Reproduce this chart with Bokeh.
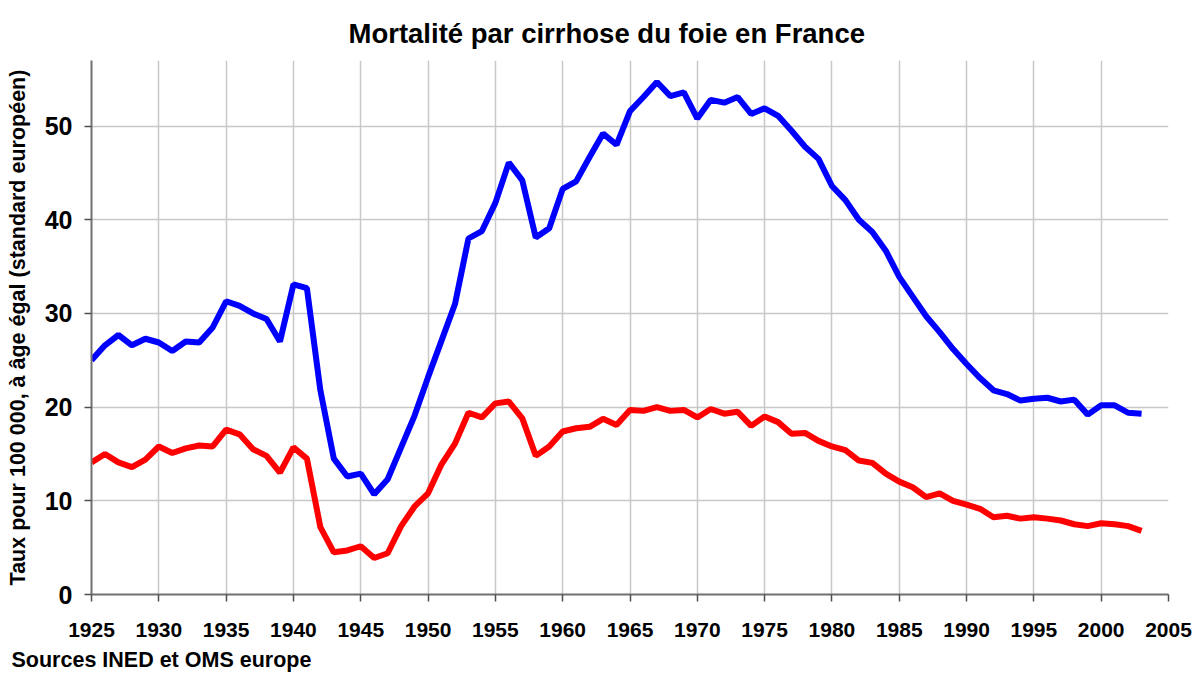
from bokeh.plotting import figure
from bokeh.models import Range1d, FixedTicker, Title, ColumnDataSource
from bokeh.embed import file_html
from bokeh.resources import INLINE

years = list(range(1925, 2004))

hommes = [25.0, 26.6, 27.7, 26.6, 27.3, 26.9, 26.0, 27.0, 26.9, 28.5,
          31.3, 30.8, 30.0, 29.4, 27.0, 33.1, 32.7, 21.8, 14.5, 12.6,
          12.9, 10.7, 12.3, 15.7, 19.1, 23.2, 27.1, 31.0, 38.0, 38.8,
          41.8, 46.1, 44.2, 38.1, 39.1, 43.3, 44.1, 46.7, 49.2, 48.0,
          51.6, 53.1, 54.7, 53.2, 53.6, 50.8, 52.8, 52.5, 53.1, 51.3,
          51.9, 51.1, 49.5, 47.8, 46.5, 43.6, 42.1, 40.0, 38.7, 36.7,
          33.9, 31.8, 29.7, 28.0, 26.2, 24.6, 23.1, 21.8, 21.4, 20.7,
          20.9, 21.0, 20.6, 20.8, 19.2, 20.2, 20.2, 19.4, 19.3]

femmes = [14.1, 15.0, 14.1, 13.6, 14.4, 15.8, 15.1, 15.6, 15.9, 15.8,
          17.6, 17.1, 15.5, 14.8, 13.0, 15.7, 14.5, 7.2, 4.5, 4.7,
          5.15, 3.9, 4.4, 7.3, 9.4, 10.8, 13.9, 16.1, 19.4, 18.9,
          20.4, 20.6, 18.8, 14.8, 15.8, 17.4, 17.75, 17.9, 18.75, 18.1,
          19.7, 19.6, 20.0, 19.6, 19.7, 18.9, 19.8, 19.3, 19.5, 18.0,
          19.0, 18.4, 17.15, 17.25, 16.4, 15.8, 15.4, 14.3, 14.05, 12.9,
          12.05, 11.45, 10.4, 10.8, 10.0, 9.6, 9.15, 8.25, 8.4, 8.1,
          8.25, 8.1, 7.9, 7.5, 7.3, 7.6, 7.5, 7.3, 6.8]

x_ticks = list(range(1925, 2006, 5))
y_ticks = [0, 10, 20, 30, 40, 50]

FONT = "Liberation Sans"

src = ColumnDataSource(dict(year=years, h=hommes, f=femmes))

p = figure(width=1199, height=679, output_backend="svg", toolbar_location=None,
           x_range=Range1d(1925, 2005), y_range=Range1d(0, 57),
           min_border_left=91, min_border_right=31, min_border_top=60,
           min_border_bottom=85, outline_line_color=None)

p.title.text = "Mortalité par cirrhose du foie en France"
p.title.text_font = FONT
p.title.text_font_size = "27.5px"
p.title.text_font_style = "bold"
p.title.text_color = "black"
p.title.align = "left"
p.title.offset = 257
p.title.standoff = 22
p.title.vertical_align = "middle"
p.title.text_line_height = 0.6

p.line("year", "h", source=src, line_color="#0000FF", line_width=6)
p.line("year", "f", source=src, line_color="#FF0000", line_width=6)

p.xaxis.ticker = FixedTicker(ticks=x_ticks)
p.yaxis.ticker = FixedTicker(ticks=y_ticks)
p.xaxis.minor_tick_line_color = None
p.yaxis.minor_tick_line_color = None

for ax in (p.xaxis, p.yaxis):
    ax.axis_line_color = "#707070"
    ax.axis_line_width = 2
    ax.major_tick_line_color = "#505050"
    ax.major_tick_line_width = 1.5
    ax.major_tick_in = 0
    ax.major_tick_out = 7
    ax.major_label_text_font = FONT
    ax.major_label_text_font_style = "bold"
    ax.major_label_text_color = "black"

p.xaxis.major_label_text_font_size = "21px"
p.xaxis.major_label_standoff = 21
p.yaxis.major_label_text_font_size = "25px"
p.yaxis.major_label_standoff = 12

p.yaxis.axis_label = "Taux pour 100 000, à âge égal (standard européen)"
p.yaxis.axis_label_text_font = FONT
p.yaxis.axis_label_text_font_size = "21.5px"
p.yaxis.axis_label_text_font_style = "bold"
p.yaxis.axis_label_text_color = "black"
p.yaxis.axis_label_standoff = 12

p.xgrid.grid_line_color = "#c8c8c8"
p.ygrid.grid_line_color = "#c8c8c8"
p.xgrid.grid_line_width = 1.5
p.ygrid.grid_line_width = 1.5

src_title = Title(text="Sources INED et OMS europe", align="left",
                  text_font=FONT, text_font_size="21.5px", text_font_style="bold",
                  text_color="black", offset=-80, standoff=12)
p.add_layout(src_title, "below")

open("out.html", "w").write(file_html(p, INLINE))
